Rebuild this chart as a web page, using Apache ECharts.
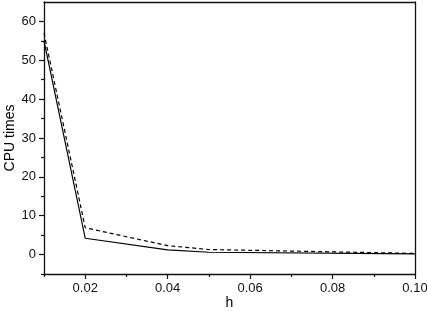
<!DOCTYPE html>
<html><head><meta charset="utf-8">
<script src="https://cdn.jsdelivr.net/npm/echarts@6/dist/echarts.min.js"></script>
<style>html,body{margin:0;padding:0;background:#fff}#c{width:427px;height:311px}</style>
</head><body><div id="c"></div>
<script>
const hValues = [0.01, 0.02, 0.04, 0.05, 0.10];
const solidTimes = [55.0, 4.2, 1.2, 0.6, 0.2];
const dashedTimes = [57.0, 6.9, 2.3, 1.3, 0.3];
const xMajorTicks = [0.02, 0.04, 0.06, 0.08, 0.10];
const xMinorTicks = [0.01, 0.03, 0.05, 0.07, 0.09];
const yMajorTicks = [0, 10, 20, 30, 40, 50, 60];
const yMinorTicks = [-5, 5, 15, 25, 35, 45, 55];

const font = 'Liberation Sans, Arial, sans-serif';
const lineC = '#111';
const chart = echarts.init(document.getElementById('c'), null, {renderer: 'canvas'});
const xBase = {type: 'value', min: 0.01, max: 0.10, position: 'bottom', splitLine: {show: false}};
const yBase = {type: 'value', min: -5, max: 65, position: 'left', splitLine: {show: false}};
chart.setOption({
  animation: false,
  grid: {left: 44, right: 12, top: 2, bottom: 37, show: false, containLabel: false, outerBoundsMode: 'none'},
  xAxis: [
    Object.assign({}, xBase, {
      name: 'h', nameLocation: 'middle', nameGap: 22, nameMoveOverlap: false,
      nameTextStyle: {fontFamily: font, fontSize: 14, color: '#000'},
      axisLine: {show: true, onZero: false, lineStyle: {color: lineC, width: 1.3}},
      axisTick: {show: true, customValues: xMajorTicks, length: 5, inside: false, lineStyle: {color: lineC, width: 1.2}},
      axisLabel: {customValues: xMajorTicks, margin: 8, fontFamily: font, fontSize: 13, color: '#111',
        formatter: v => v.toFixed(2)}
    }),
    Object.assign({}, xBase, {
      axisLine: {show: false, onZero: false},
      axisTick: {show: true, customValues: xMinorTicks, length: 3, lineStyle: {color: lineC, width: 1.2}},
      axisLabel: {show: false}
    }),
    Object.assign({}, xBase, {
      position: 'top',
      axisLine: {show: true, onZero: false, lineStyle: {color: lineC, width: 1.3}},
      axisTick: {show: false}, axisLabel: {show: false}
    })
  ],
  yAxis: [
    Object.assign({}, yBase, {
      name: 'CPU times', nameLocation: 'middle', nameGap: 27, nameRotate: 90, nameMoveOverlap: false,
      nameTextStyle: {fontFamily: font, fontSize: 14, color: '#000'},
      axisLine: {show: true, onZero: false, lineStyle: {color: lineC, width: 1.3}},
      axisTick: {show: true, customValues: yMajorTicks, length: 5, lineStyle: {color: lineC, width: 1.2}},
      axisLabel: {customValues: yMajorTicks, margin: 8, fontFamily: font, fontSize: 13, color: '#111'}
    }),
    Object.assign({}, yBase, {
      axisLine: {show: false, onZero: false},
      axisTick: {show: true, customValues: yMinorTicks, length: 3, lineStyle: {color: lineC, width: 1.2}},
      axisLabel: {show: false}
    }),
    Object.assign({}, yBase, {
      position: 'right',
      axisLine: {show: true, onZero: false, lineStyle: {color: lineC, width: 1.3}},
      axisTick: {show: false}, axisLabel: {show: false}
    })
  ],
  series: [
    {type: 'line', xAxisIndex: 0, yAxisIndex: 0, showSymbol: false, symbol: 'none',
      data: hValues.map((h, i) => [h, solidTimes[i]]),
      lineStyle: {color: '#000', width: 1.2, type: 'solid'}},
    {type: 'line', xAxisIndex: 0, yAxisIndex: 0, showSymbol: false, symbol: 'none',
      data: hValues.map((h, i) => [h, dashedTimes[i]]),
      lineStyle: {color: '#000', width: 1.2, type: [4, 3]}}
  ]
});
</script></body></html>
